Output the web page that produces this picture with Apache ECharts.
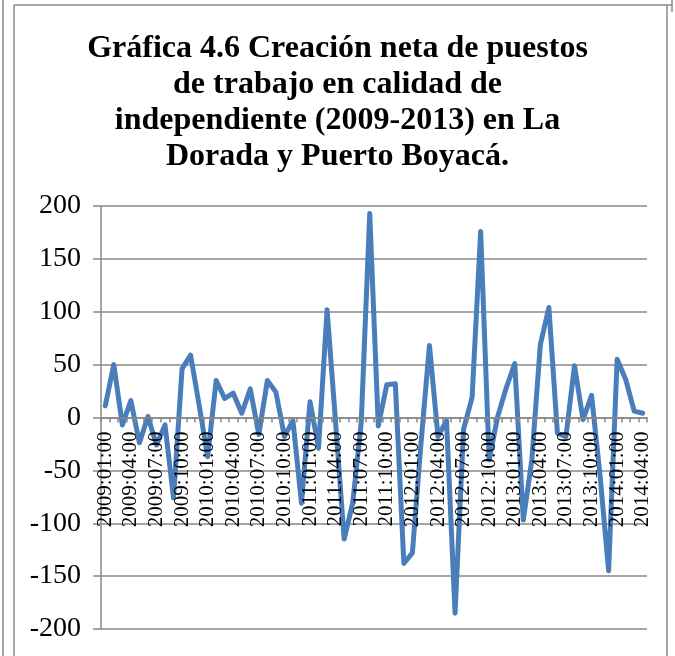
<!DOCTYPE html>
<html><head><meta charset="utf-8">
<script src="https://cdn.jsdelivr.net/npm/echarts@6/dist/echarts.min.js"></script>
<style>html,body{margin:0;padding:0;background:#fff}#c{width:675px;height:656px}</style>
</head><body><div id="c"></div>
<script>
const titleLines = ["Gráfica 4.6 Creación neta de puestos","de trabajo en calidad de","independiente (2009-2013) en La","Dorada y Puerto Boyacá."];
const years = [2009,2010,2011,2012,2013,2014];
const categories = [];
years.forEach(y => { for (let m = 1; m <= 12; m++) { if (y === 2014 && m > 4) break; categories.push(y + ":" + String(m).padStart(2,"0") + ":00"); } });
const values = [
  11, 50, -7, 16, -24, 1, -26, -7, -76, 46, 59, 12,
  -37, 35, 18, 23, 4, 27, -16, 35, 24, -18, -3, -81,
  15, -29, 102, -5, -115, -81, -5, 193, -8, 31, 32, -138,
  -128, -25, 68, -18, -3, -185, -11, 19, 176, -40, 1, 28,
  51, -97, -40, 69, 104, -15, -18, 49, -2, 21, -55, -145,
  55, 36, 6, 4
];
const yTicks = {min: -200, max: 200, interval: 50};

const chart = echarts.init(document.getElementById('c'), null, {renderer: 'canvas'});
const serif = "'Liberation Serif', 'Times New Roman', serif";
chart.setOption({
  backgroundColor: '#fff',
  animation: false,
  title: {
    text: titleLines.join("\n"),
    left: 'center', top: 26,
    textStyle: {fontFamily: serif, fontWeight: 'bold', fontSize: 32, lineHeight: 36, color: '#000'}
  },
  grid: {left: 101, right: 28, top: 206, bottom: 27, containLabel: false, outerBoundsMode: 'none'},
  xAxis: {
    type: 'category', data: categories, boundaryGap: true, z: 10, offset: 0,
    axisLine: {onZero: false, lineStyle: {color: '#888', width: 1.5}},
    axisTick: {show: true, interval: 0, length: 5, lineStyle: {color: '#888', width: 1.5}},
    axisLabel: {interval: 2, rotate: 90, margin: 14, fontFamily: serif, fontSize: 21, color: '#000'},
    splitLine: {show: false}
  },
  yAxis: {
    type: 'value', min: yTicks.min, max: yTicks.max, interval: yTicks.interval,
    axisLine: {show: true, onZero: false, lineStyle: {color: '#888', width: 1.5}},
    axisTick: {show: true, length: 8, lineStyle: {color: '#888', width: 1.5}},
    axisLabel: {margin: 20, fontFamily: serif, fontSize: 28, color: '#000'},
    splitLine: {show: true, lineStyle: {color: '#888', width: 1.5}}
  },
  series: [{
    type: 'line', data: values, symbol: 'none', z: 2,
    lineStyle: {color: '#4a7ebb', width: 5, join: 'round', cap: 'round'}
  }],
  graphic: [
    {type: 'line', shape: {x1: 3, y1: 0, x2: 3, y2: 656}, style: {stroke: '#888', lineWidth: 1.5}},
    {type: 'line', shape: {x1: 14, y1: 5, x2: 14, y2: 656}, style: {stroke: '#888', lineWidth: 1.5}},
    {type: 'line', shape: {x1: 14, y1: 5, x2: 672, y2: 5}, style: {stroke: '#888', lineWidth: 1.5}},
    {type: 'line', shape: {x1: 667, y1: 5, x2: 667, y2: 656}, style: {stroke: '#888', lineWidth: 1.5}},
    {type: 'line', shape: {x1: 672, y1: 0, x2: 672, y2: 12}, style: {stroke: '#888', lineWidth: 1.5}}
  ]
});
// place the category axis on the value 0 using the library's own scale
const zeroY = chart.convertToPixel({yAxisIndex: 0}, 0);
const bottomY = chart.convertToPixel({yAxisIndex: 0}, yTicks.min);
chart.setOption({xAxis: {offset: -(bottomY - zeroY)}});
</script></body></html>
